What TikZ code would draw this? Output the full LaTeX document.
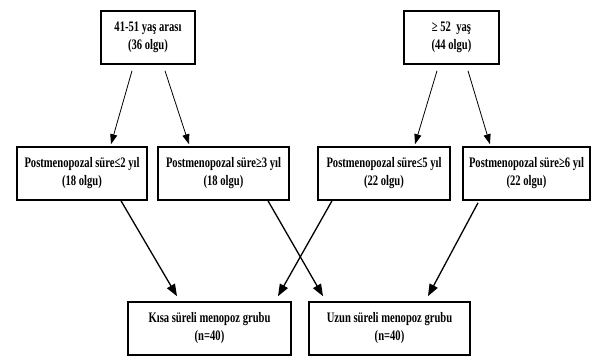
\documentclass[tikz,border=0pt]{standalone}
\usepackage{fontspec}
\setmainfont{Liberation Serif}[FakeStretch=0.73]
\usetikzlibrary{arrows.meta, positioning}

\begin{document}
\begin{tikzpicture}[
    x=1pt, y=1pt,
    groupbox/.style={
        draw,
        line width=1.6pt,
        inner sep=0pt,
        minimum height=53pt,
        align=center,
        font=\fontsize{14.5}{18}\selectfont\bfseries,
    },
    thinarrow/.style={
        line width=0.8pt,
        -{Triangle[length=10pt, width=7pt]},
    },
    thickarrow/.style={
        line width=1.3pt,
        -{Triangle[length=12pt, width=9pt]},
    }
]
    \useasboundingbox (0,0) rectangle (595,360);

    % Age groups
    \node[groupbox, minimum width=94pt] (agea) at (148,322.5) {41-51 yaş arası\\(36 olgu)};
    \node[groupbox, minimum width=95pt] (ageb) at (451.5,322.5) {≥ 52\ \ yaş\\(44 olgu)};

    % Postmenopausal duration
    \node[groupbox, minimum width=130pt] (pmtwo) at (82,186.5) {Postmenopozal süre≤2 yıl\\(18 olgu)};
    \node[groupbox, minimum width=131pt] (pmthree) at (223.5,186.5) {Postmenopozal süre≥3 yıl\\(18 olgu)};
    \node[groupbox, minimum width=132pt] (pmfive) at (384,186.5) {Postmenopozal süre≤5 yıl\\(22 olgu)};
    \node[groupbox, minimum width=127pt] (pmsix) at (526.5,186.5) {Postmenopozal süre≥6 yıl\\(22 olgu)};

    % Menopause groups
    \node[groupbox, minimum width=163pt] (shortgrp) at (209.5,31.5) {Kısa süreli menopoz grubu\\(n=40)};
    \node[groupbox, minimum width=161pt] (longgrp) at (389.5,31.5) {Uzun süreli menopoz grubu\\(n=40)};

    % Arrows
    \draw[thinarrow] ([xshift=-16pt, yshift=-6pt]agea.south) -- ([xshift=29pt, yshift=2pt]pmtwo.north);
    \draw[thinarrow] ([xshift=17pt, yshift=-6pt]agea.south) -- ([xshift=-34.5pt, yshift=2pt]pmthree.north);
    \draw[thinarrow] ([xshift=-14.5pt, yshift=-6pt]ageb.south) -- ([xshift=31pt, yshift=2pt]pmfive.north);
    \draw[thinarrow] ([xshift=16.5pt, yshift=-6pt]ageb.south) -- ([xshift=-36.5pt, yshift=2pt]pmsix.north);

    \draw[thickarrow] ([xshift=39pt]pmtwo.south) -- ([xshift=-32.5pt, yshift=5pt]shortgrp.north);
    \draw[thickarrow] ([xshift=44.5pt]pmthree.south) -- ([xshift=-66.5pt, yshift=5pt]longgrp.north);
    \draw[thickarrow] ([xshift=-52pt]pmfive.south) -- ([xshift=68.5pt, yshift=5pt]shortgrp.north);
    \draw[thickarrow] ([xshift=-48.5pt, yshift=-2pt]pmsix.south) -- ([xshift=38.5pt, yshift=5pt]longgrp.north);
\end{tikzpicture}
\end{document}
